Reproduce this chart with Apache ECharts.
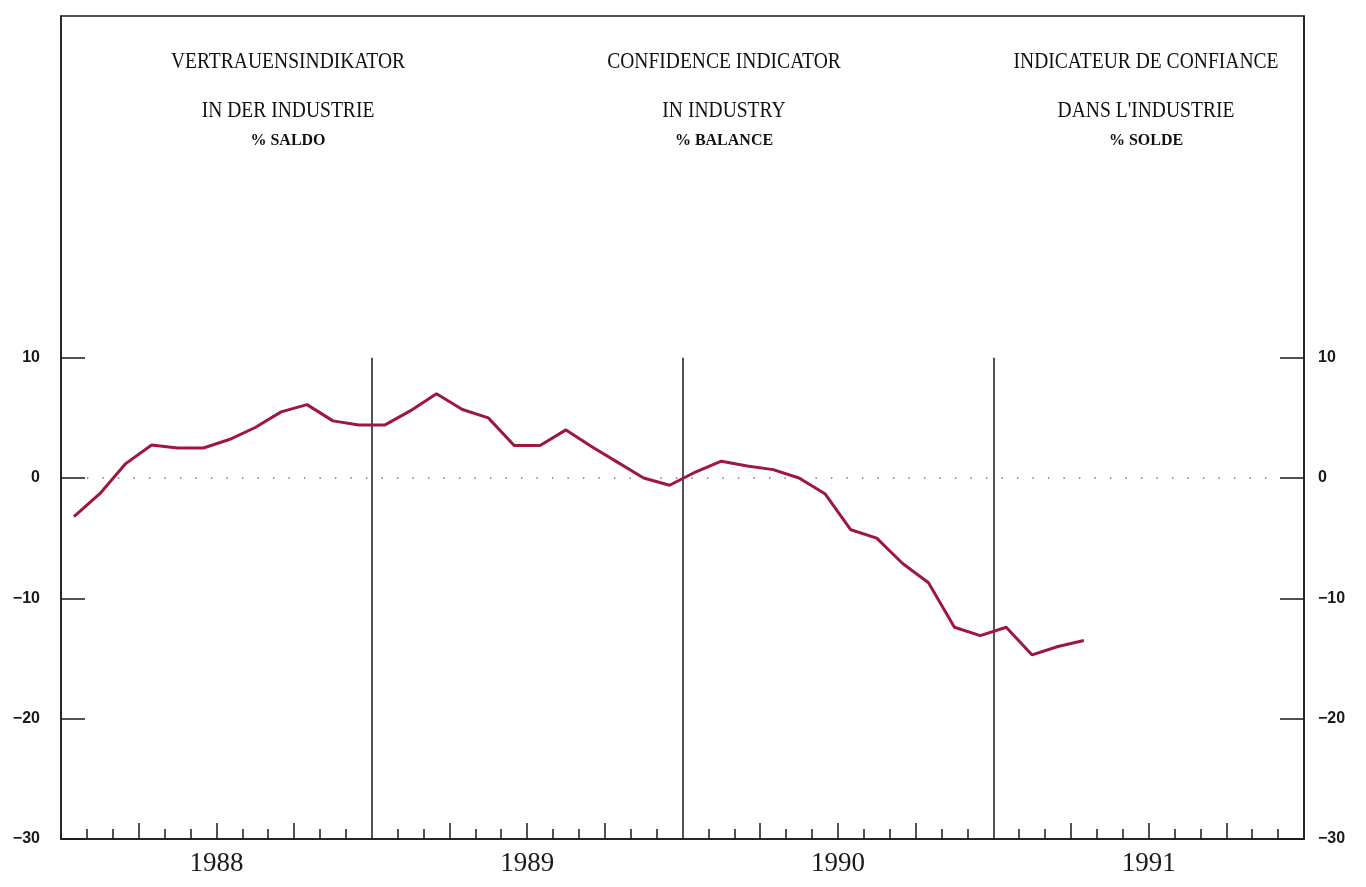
<!DOCTYPE html>
<html>
<head>
<meta charset="utf-8">
<title>Vertrauensindikator in der Industrie</title>
<script src="https://cdn.jsdelivr.net/npm/echarts@6/dist/echarts.min.js"></script>
<style>
  html, body { margin: 0; padding: 0; background: #fff; }
  #chart { width: 1366px; height: 887px; }
</style>
</head>
<body>
<div id="chart"></div>
<script>
// monthly values, Jan 1988 .. Apr 1991 (% balance)
const values = [
  -3.2, -1.3, 1.2, 2.75, 2.5, 2.5, 3.2, 4.2, 5.5, 6.1, 4.75, 4.4,
  4.4, 5.6, 7.0, 5.7, 5.0, 2.7, 2.7, 4.0, 2.6, 1.3, 0.0, -0.6,
  0.5, 1.4, 1.0, 0.7, 0.0, -1.3, -4.3, -5.0, -7.1, -8.7, -12.4, -13.1,
  -12.4, -14.7, -14.0, -13.5
];
const years = ["1988", "1989", "1990", "1991"];
const yTicks = [-30, -20, -10, 0, 10];
const yearBreaks = [12, 24, 36];

const titleLines = [
  ["VERTRAUENSINDIKATOR", "IN DER INDUSTRIE", "% SALDO"],
  ["CONFIDENCE INDICATOR", "IN INDUSTRY", "% BALANCE"],
  ["INDICATEUR DE CONFIANCE", "DANS L'INDUSTRIE", "% SOLDE"]
];
const titleX = [288, 724, 1146];

const points = values.map((v, i) => [i + 0.5, v]);

// month ticks: short ones each month, taller ones each quarter
const monthTicks = [];
const quarterTicks = [];
for (let m = 1; m < 48; m++) {
  if (m % 12 === 0) continue;
  if (m % 3 === 0) quarterTicks.push(m);
  else monthTicks.push(m);
}

const chart = echarts.init(document.getElementById("chart"));

const graphics = [];
titleLines.forEach((lines, k) => {
  graphics.push({
    type: "text", x: titleX[k], y: 62, scaleX: 0.85, silent: true,
    style: { text: lines[0], font: "23px 'Liberation Serif'", fill: "#111",
      textAlign: "center", textVerticalAlign: "middle" }
  });
  graphics.push({
    type: "text", x: titleX[k], y: 111, scaleX: 0.85, silent: true,
    style: { text: lines[1], font: "23px 'Liberation Serif'", fill: "#111",
      textAlign: "center", textVerticalAlign: "middle" }
  });
  graphics.push({
    type: "text", x: titleX[k], y: 141, silent: true,
    style: { text: lines[2], font: "bold 16px 'Liberation Serif'", fill: "#111",
      textAlign: "center", textVerticalAlign: "middle" }
  });
});

const yLabel = {
  customValues: yTicks,
  fontFamily: "Liberation Sans",
  fontWeight: "bold",
  fontSize: 16,
  color: "#1a1a1a",
  formatter: v => String(v).replace("-", "\u2212")
};
const axisLine = { show: true, onZero: false, lineStyle: { color: "#1a1a1a", width: 1.5 } };

const option = {
  animation: false,
  backgroundColor: "#fff",
  grid: {
    left: 61, right: 62, top: 16, bottom: 48,
    show: true, borderColor: "#1a1a1a", borderWidth: 1.5, backgroundColor: "transparent"
  },
  graphic: graphics,
  xAxis: [
    {
      type: "value", min: 0, max: 48,
      axisLine: axisLine,
      axisTick: { inside: true, length: 10, customValues: monthTicks,
        lineStyle: { color: "#1a1a1a", width: 1.5 } },
      axisLabel: {
        customValues: [6, 18, 30, 42],
        formatter: v => years[(v - 6) / 12],
        fontFamily: "Liberation Serif", fontSize: 27, color: "#1a1a1a", margin: 11
      },
      splitLine: { show: false }
    },
    {
      type: "value", min: 0, max: 48, position: "bottom",
      axisLine: { show: false, onZero: false },
      axisTick: { inside: true, length: 16, customValues: quarterTicks,
        lineStyle: { color: "#1a1a1a", width: 1.5 } },
      axisLabel: { show: false },
      splitLine: { show: false }
    }
  ],
  yAxis: [
    {
      type: "value", min: -30, max: 38.4, position: "left",
      axisLine: axisLine,
      axisTick: { show: true, inside: true, length: 24, customValues: yTicks,
        lineStyle: { color: "#1a1a1a", width: 1.5 } },
      axisLabel: Object.assign({ margin: 21 }, yLabel),
      splitLine: { show: false }
    },
    {
      type: "value", min: -30, max: 38.4, position: "right",
      axisLine: axisLine,
      axisTick: { show: true, inside: true, length: 24, customValues: yTicks,
        lineStyle: { color: "#1a1a1a", width: 1.5 } },
      axisLabel: Object.assign({ margin: 14 }, yLabel),
      splitLine: { show: false }
    }
  ],
  series: [
    {
      type: "line",
      data: points,
      showSymbol: false,
      lineStyle: { color: "#a0173d", width: 3 },
      z: 5,
      markLine: {
        silent: true,
        symbol: "none",
        label: { show: false },
        data: [
          [
            { coord: [1, 0], lineStyle: { color: "#777", width: 1.5, type: [1.5, 14] } },
            { coord: [47, 0] }
          ]
        ].concat(yearBreaks.map(m => [
          { coord: [m, -30], lineStyle: { color: "#1a1a1a", width: 1.5, type: "solid" } },
          { coord: [m, 10] }
        ]))
      }
    }
  ]
};

chart.setOption(option);
</script>
</body>
</html>
